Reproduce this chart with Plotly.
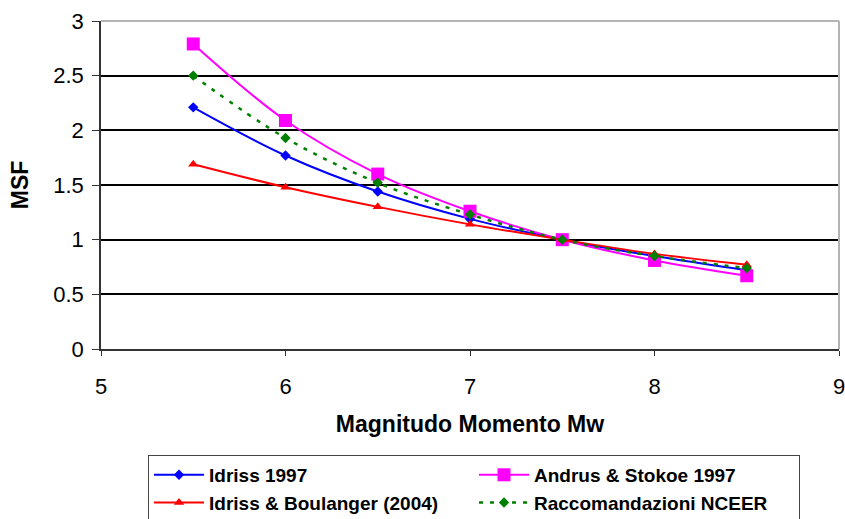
import plotly.graph_objects as go

# Moment magnitude values where each scaling relation is evaluated
magnitudes = [5.5, 6.0, 6.5, 7.0, 7.5, 8.0, 8.5]

# Magnitude Scaling Factor (MSF) for each relation
msf_idriss_1997 = [2.21, 1.77, 1.44, 1.19, 1.00, 0.85, 0.72]
msf_andrus_stokoe_1997 = [2.79, 2.09, 1.60, 1.26, 1.00, 0.81, 0.67]
msf_idriss_boulanger_2004 = [1.69, 1.48, 1.30, 1.14, 1.00, 0.87, 0.77]
msf_nceer = [2.50, 1.93, 1.52, 1.23, 1.00, 0.85, 0.74]

x_ticks = [5, 6, 7, 8, 9]
y_ticks = [0, 0.5, 1, 1.5, 2, 2.5, 3]

FONT = "Liberation Sans, Arial, sans-serif"

fig = go.Figure()

fig.add_trace(go.Scatter(
    x=magnitudes, y=msf_idriss_1997, name="<b>Idriss 1997</b>",
    mode="lines+markers", line=dict(color="#0000ff", width=2, shape="spline"),
    marker=dict(symbol="diamond", size=8, color="#0000ff"),
))
fig.add_trace(go.Scatter(
    x=magnitudes, y=msf_andrus_stokoe_1997, name="<b>Andrus & Stokoe 1997</b>",
    mode="lines+markers", line=dict(color="#ff00ff", width=2, shape="spline"),
    marker=dict(symbol="square", size=13, color="#ff00ff"),
))
fig.add_trace(go.Scatter(
    x=magnitudes, y=msf_idriss_boulanger_2004, name="<b>Idriss & Boulanger (2004)</b>",
    mode="lines+markers", line=dict(color="#ff0000", width=2, shape="spline"),
    marker=dict(symbol="triangle-up", size=9, color="#ff0000"),
))
fig.add_trace(go.Scatter(
    x=magnitudes, y=msf_nceer, name="<b>Raccomandazioni NCEER</b>",
    mode="lines+markers", line=dict(color="#008000", width=2.5, shape="spline", dash="4px,7px"),
    marker=dict(symbol="diamond", size=8, color="#008000"),
))

# Gray plot-area frame on the top and right sides
fig.add_shape(type="line", xref="x domain", yref="y domain", x0=0, x1=1, y0=1, y1=1,
              line=dict(color="#b4b4b4", width=2), layer="above")
fig.add_shape(type="line", xref="x domain", yref="y domain", x0=1, x1=1, y0=0, y1=1,
              line=dict(color="#b4b4b4", width=2), layer="above")

fig.update_layout(
    width=845, height=519,
    margin=dict(l=101, r=6, t=21, b=170, autoexpand=False),
    paper_bgcolor="white", plot_bgcolor="white",
    font=dict(family=FONT, color="black"),
    showlegend=True,
    legend=dict(
        orientation="h",
        x=0.0637, xanchor="left",
        y=-0.323, yanchor="top",
        bordercolor="#444444", borderwidth=1,
        font=dict(family=FONT, size=19, color="black"),
        itemwidth=50,
        entrywidth=260, entrywidthmode="pixels",
        bgcolor="white",
    ),
    xaxis=dict(
        range=[5, 9], tickvals=x_ticks, ticktext=[str(v) for v in x_ticks],
        showgrid=False, zeroline=False,
        showline=True, linecolor="#333333", linewidth=1.5,
        ticks="outside", ticklen=5, tickcolor="#333333",
        ticklabelstandoff=12, ticklabeloverflow="allow",
        tickfont=dict(family=FONT, size=22, color="black"),
        title=dict(text="<b>Magnitudo Momento Mw</b>", standoff=18,
                   font=dict(family=FONT, size=23, color="black")),
    ),
    yaxis=dict(
        range=[0, 3], tickvals=y_ticks, ticktext=["0", "0.5", "1", "1.5", "2", "2.5", "3"],
        showgrid=True, gridcolor="#000000", gridwidth=1.5,
        zeroline=False,
        showline=True, linecolor="#333333", linewidth=1.5,
        ticks="outside", ticklen=7, tickcolor="#333333",
        ticklabelstandoff=4,
        tickfont=dict(family=FONT, size=22, color="black"),
        title=dict(text="<b>MSF</b>", standoff=18,
                   font=dict(family=FONT, size=23, color="black")),
    ),
)

fig.write_html("out.html")
